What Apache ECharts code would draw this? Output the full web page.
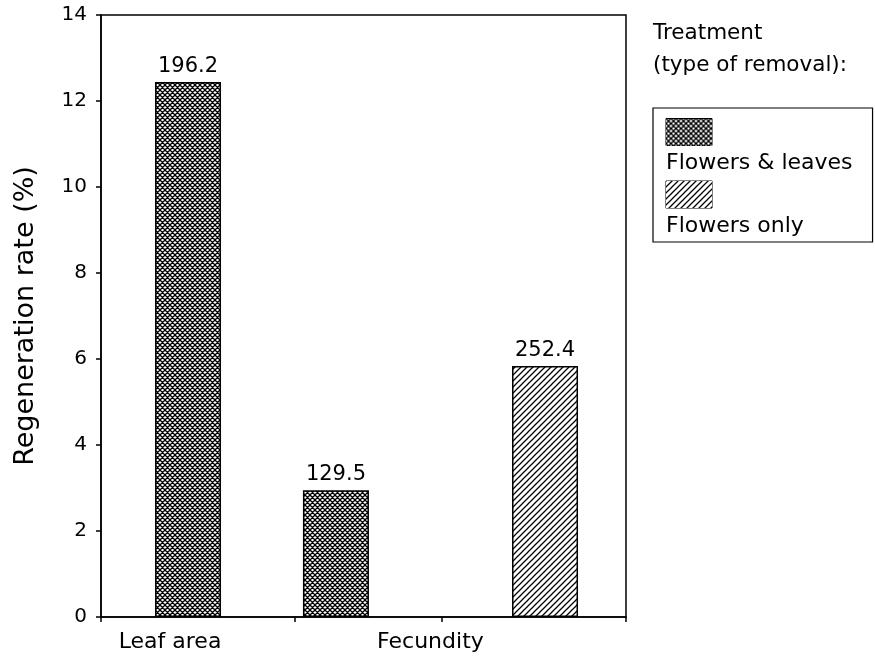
<!DOCTYPE html>
<html><head><meta charset="utf-8">
<script src="https://cdn.jsdelivr.net/npm/echarts@6/dist/echarts.min.js"></script>
<style>html,body{margin:0;padding:0;background:#fff}#c{width:875px;height:663px}</style>
</head><body><div id="c"></div>
<script>
// ---- data ----
const categories = ['Leaf area', 'Fecundity'];
const seriesNames = ['Flowers & leaves', 'Flowers only'];
const flowersLeaves = [12.44, 2.95];
const flowersOnly = [null, 5.84];
const flowersLeavesNotes = ['196.2', '129.5'];
const flowersOnlyNotes = [null, '252.4'];
const yTickValues = [0, 2, 4, 6, 8, 10, 12, 14];
const legendTitle = 'Treatment\n(type of removal):';
const yAxisName = 'Regeneration rate (%)';

// ---- layout (hand-drawn original: uneven horizontal slots) ----
const FONT = 'DejaVu Sans';
const SLOT_MAX = 40;
const barSlots = { 'Flowers & leaves': [6.63, 17.9], 'Flowers only': [null, 33.83] };
const labelSlots = [5.26, 25.1];
const tickSlots = [0, 14.78, 25.98, 40];

function makeTile(kind) {
  const s = kind === 'cross' ? 5 : 6;
  const c = document.createElement('canvas');
  c.width = s; c.height = s;
  const g = c.getContext('2d');
  g.fillStyle = '#fff'; g.fillRect(0, 0, s, s);
  g.strokeStyle = '#000';
  g.lineWidth = kind === 'cross' ? 1.3 : 1.25;
  g.lineCap = 'square';
  g.beginPath();
  for (let k = -1; k <= 1; k++) {
    const x0 = k * s;
    // "/" line
    g.moveTo(x0, s); g.lineTo(x0 + s, 0);
    if (kind === 'cross') {
      // "\" line
      g.moveTo(x0, 0); g.lineTo(x0 + s, s);
    }
  }
  g.stroke();
  return c;
}
function makeSwatch(kind, w, h) {
  const tile = makeTile(kind);
  const c = document.createElement('canvas');
  c.width = w; c.height = h;
  const g = c.getContext('2d');
  g.fillStyle = g.createPattern(tile, 'repeat');
  g.fillRect(0, 0, w, h);
  return c;
}
const crossTile = makeTile('cross');
const hatchTile = makeTile('hatch');
const crossSwatch = makeSwatch('cross', 46, 27);
const hatchSwatch = makeSwatch('hatch', 46, 27);

function buildData(values, notes, slots) {
  const out = [];
  values.forEach((v, i) => {
    if (v == null) return;
    out.push({ value: [slots[i], v], note: notes[i] });
  });
  return out;
}

const labelStyle = {
  show: true, position: 'top', distance: 5,
  fontFamily: FONT, fontSize: 21, color: '#000',
  formatter: p => p.data.note
};

const chart = echarts.init(document.getElementById('c'), null, { renderer: 'canvas' });
chart.setOption({
  backgroundColor: '#fff',
  animation: false,
  title: {
    text: legendTitle, left: 653, top: 17, padding: 0,
    textStyle: { fontFamily: FONT, fontSize: 21.5, fontWeight: 'normal', color: '#000', lineHeight: 32 }
  },
  legend: {
    orient: 'vertical', left: 653, top: 108,
    padding: [10, 20, 5, 7],
    borderColor: '#000', borderWidth: 1.2,
    itemWidth: 0, itemHeight: 0, itemGap: 6,
    selectedMode: false,
    data: seriesNames,
    formatter: n => (n === seriesNames[0] ? '{a|}' : '{b|}') + '\n{t|' + n + '}',
    textStyle: {
      fontFamily: FONT, fontSize: 22, color: '#000',
      rich: {
        a: { width: 46, height: 27, backgroundColor: { image: crossSwatch }, borderColor: '#000', borderWidth: 1 },
        b: { width: 46, height: 27, backgroundColor: { image: hatchSwatch }, borderColor: '#000', borderWidth: 1 },
        t: { fontFamily: FONT, fontSize: 22, color: '#000', lineHeight: 36 }
      }
    }
  },
  grid: {
    left: 101, right: 249, top: 15, bottom: 46,
    show: true, borderColor: '#000', borderWidth: 1.5, backgroundColor: 'transparent'
  },
  xAxis: {
    type: 'value', min: 0, max: SLOT_MAX,
    axisLine: { show: true, lineStyle: { color: '#000', width: 1.5 } },
    axisTick: { show: true, length: 5, lineStyle: { color: '#000', width: 1.5 }, customValues: tickSlots },
    axisLabel: {
      show: true, customValues: labelSlots, margin: 14,
      fontFamily: FONT, fontSize: 22, color: '#000',
      formatter: v => {
        let best = 0;
        labelSlots.forEach((s, i) => { if (Math.abs(s - v) < Math.abs(labelSlots[best] - v)) best = i; });
        return categories[best];
      }
    },
    splitLine: { show: false }
  },
  yAxis: {
    type: 'value', min: 0, max: 14, interval: 2,
    name: yAxisName, nameLocation: 'middle', nameGap: 62,
    nameTextStyle: { fontFamily: FONT, fontSize: 27, color: '#000' },
    axisLine: { show: true, lineStyle: { color: '#000', width: 1.5 } },
    axisTick: { show: true, length: 5, lineStyle: { color: '#000', width: 1.5 } },
    axisLabel: {
      show: true, margin: 14, fontFamily: FONT, fontSize: 20, color: '#000',
      formatter: v => (yTickValues.indexOf(v) >= 0 ? String(v) : '')
    },
    splitLine: { show: false }
  },
  series: [
    {
      name: seriesNames[0], type: 'bar', barWidth: 66, barGap: '-100%',
      data: buildData(flowersLeaves, flowersLeavesNotes, barSlots['Flowers & leaves']),
      itemStyle: { color: { image: crossTile, repeat: 'repeat' }, borderColor: '#000', borderWidth: 1.5 },
      label: labelStyle
    },
    {
      name: seriesNames[1], type: 'bar', barWidth: 66, barGap: '-100%',
      data: buildData(flowersOnly, flowersOnlyNotes, barSlots['Flowers only']),
      itemStyle: { color: { image: hatchTile, repeat: 'repeat' }, borderColor: '#000', borderWidth: 1.5 },
      label: labelStyle
    }
  ]
});
</script>
</body></html>
